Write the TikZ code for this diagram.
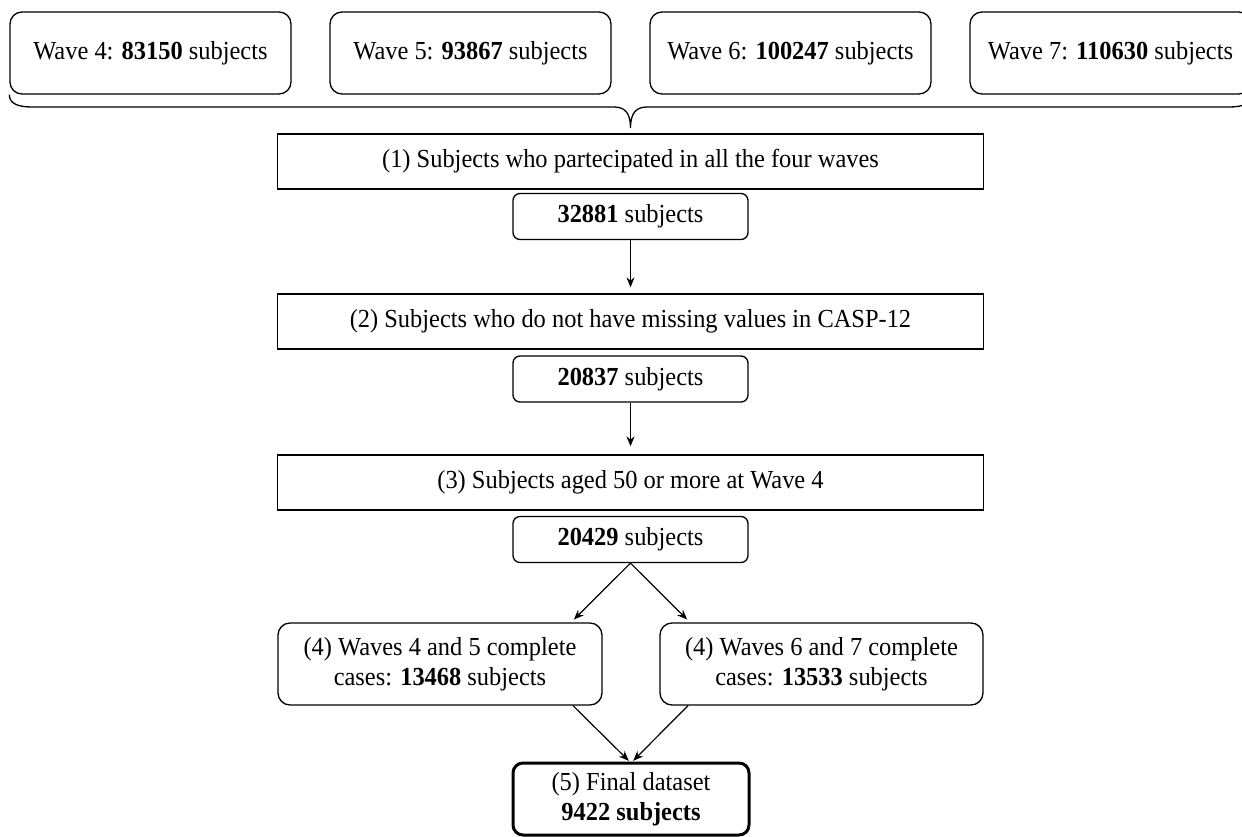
\documentclass[tikz,border=0pt]{standalone}
\usepackage{fontspec}
\setmainfont{Liberation Serif}[FakeStretch=0.94]
\usetikzlibrary{arrows.meta}
\tikzstyle{box} = [draw,line width=1.3pt,inner sep=0pt,align=center,font=\fontsize{26}{29.5}\selectfont]
\tikzstyle{wavebox} = [box,rounded corners=12pt,minimum width=281pt,minimum height=82pt]
\tikzstyle{stepbox} = [box,minimum width=706pt,minimum height=55pt]
\tikzstyle{countbox} = [box,rounded corners=7pt,minimum width=235pt,minimum height=46pt]
\tikzstyle{casebox} = [box,rounded corners=12pt,minimum height=82pt]
\tikzstyle{finalbox} = [box,line width=3pt,rounded corners=10pt,minimum width=236pt,minimum height=72pt]
\tikzstyle{arrow} = [line width=1.2pt,->,>={Stealth[length=10pt,width=8pt]}]

\begin{document}
\begin{tikzpicture}[x=1pt,y=-1pt]
	\def \gap {320}
	\def \mid {630.5}
	\useasboundingbox (0,0) rectangle (1242,837);
	% the four waves
	\foreach \i/\n in {4/83150,5/93867,6/100247,7/110630} {
	\node[wavebox] (w\i) at ({150.5+\gap*(\i-4)},53) {Wave \i: \textbf{\n} subjects};
	}
	\draw[line width=1.3pt] (w4.south west) .. controls +(0,9) and +(-14,0) .. (32,107) -- (614,107)
		.. controls +(10,0) and +(0,-16) .. (\mid,128) .. controls +(0,-16) and +(-10,0) .. (647,107)
		-- (1229,107) .. controls +(14,0) and +(0,9) .. (w7.south east);
	% selection steps
	\node[stepbox] (s1) at (\mid,161.5) {(1) Subjects who partecipated in all the four waves};
	\node[countbox] (c1) at (\mid,216.5) {\textbf{32881} subjects};
	\node[stepbox] (s2) at (\mid,321.5) {(2) Subjects who do not have missing values in CASP-12};
	\node[countbox] (c2) at (\mid,379) {\textbf{20837} subjects};
	\node[stepbox] (s3) at (\mid,482.5) {(3) Subjects aged 50 or more at Wave 4};
	\node[countbox] (c3) at (\mid,539.5) {\textbf{20429} subjects};
	\node[casebox,minimum width=324pt] (w45) at (440,664) {(4) Waves 4 and 5 complete\\cases: \textbf{13468} subjects};
	\node[casebox,minimum width=323pt] (w67) at (821.5,664) {(4) Waves 6 and 7 complete\\cases: \textbf{13533} subjects};
	\node[finalbox] (fin) at (631,799) {(5) Final dataset\\\textbf{9422 subjects}};
	\draw[arrow,shorten >=6pt] (c1) -- (s2);
	\draw[arrow,shorten >=8pt] (c2) -- (s3);
	\draw[arrow,shorten >=4pt] (c3.south) -- ([xshift=131pt]w45.north);
	\draw[arrow,shorten >=4pt] (c3.south) -- ([xshift=-131.5pt]w67.north);
	\draw[arrow,shorten >=1pt] ([xshift=133pt]w45.south) -- ([xshift=-1.5pt]fin.north);
	\draw[arrow,shorten >=1pt] ([xshift=-133.5pt]w67.south) -- ([xshift=1.5pt]fin.north);
\end{tikzpicture}
\end{document}
